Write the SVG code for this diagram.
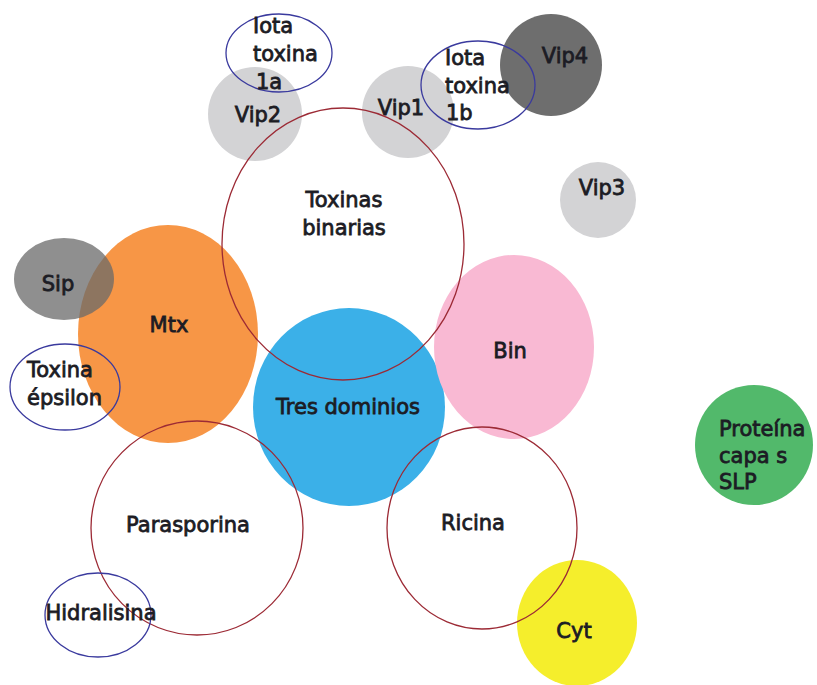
<svg xmlns="http://www.w3.org/2000/svg" width="817" height="685" viewBox="0 0 817 685">
<style>
text{font-family:"DejaVu Sans","Verdana",sans-serif;font-size:21px;fill:#1c1c24;stroke:#1c1c24;stroke-width:0.8}
.c{text-anchor:middle}
.vip{fill:#d3d3d5}
.red{fill:none;stroke:#9c2a35;stroke-width:1.3}
.blue{fill:none;stroke:#3a3a9e;stroke-width:1.3}
</style>
<rect width="817" height="685" fill="#ffffff"/>
<g id="connectors"/>
<g id="vip2"><circle class="vip" cx="255" cy="114" r="47"/><text class="c" x="258" y="122">Vip2</text></g>
<g id="vip1"><circle class="vip" cx="408" cy="112" r="46"/><text class="c" x="401" y="115">Vip1</text></g>
<g id="vip4"><circle cx="551" cy="65" r="51" fill="#6e6e6e"/><text class="c" x="565" y="63">Vip4</text></g>
<g id="vip3"><circle class="vip" cx="598" cy="200" r="38"/><text class="c" x="602" y="195">Vip3</text></g>
<g id="mtx"><ellipse cx="168" cy="334" rx="90" ry="109" fill="#f79646"/><text class="c" x="169" y="332">Mtx</text></g>
<g id="sip"><ellipse cx="64" cy="279" rx="50" ry="41" fill="#6a6a6a" fill-opacity="0.75"/><text class="c" x="58" y="291">Sip</text></g>
<g id="tres-dominios"><ellipse cx="349" cy="407" rx="96" ry="99" fill="#3bb0e8"/><text class="c" x="348" y="414">Tres dominios</text></g>
<g id="bin"><ellipse cx="514" cy="347" rx="80" ry="92" fill="#f9b9d3"/><text class="c" x="510" y="358">Bin</text></g>
<g id="cyt"><ellipse cx="577" cy="623" rx="60" ry="63" fill="#f5ee2c"/><text class="c" x="574" y="638">Cyt</text></g>
<g id="proteina-slp"><ellipse cx="754" cy="445" rx="59" ry="60" fill="#52b96b"/><text x="719" y="436">Proteína</text><text x="719" y="463">capa s</text><text x="719" y="489">SLP</text></g>
<g id="toxinas-binarias"><ellipse class="red" cx="343" cy="244" rx="121" ry="136"/><text class="c" x="344" y="207">Toxinas</text><text class="c" x="344" y="235">binarias</text></g>
<g id="parasporina"><ellipse class="red" cx="197" cy="528" rx="106" ry="107"/><text class="c" x="188" y="532">Parasporina</text></g>
<g id="ricina"><ellipse class="red" cx="482" cy="528" rx="95" ry="101"/><text class="c" x="473" y="530">Ricina</text></g>
<g id="iota-toxina-1a"><ellipse class="blue" cx="279" cy="53" rx="53" ry="39"/><text x="253" y="33">Iota</text><text x="253" y="61">toxina</text><text x="256" y="89">1a</text></g>
<g id="iota-toxina-1b"><ellipse class="blue" cx="478" cy="85" rx="57" ry="44"/><text x="445" y="65">Iota</text><text x="445" y="93">toxina</text><text x="446" y="120">1b</text></g>
<g id="toxina-epsilon"><ellipse class="blue" cx="65" cy="387" rx="55" ry="43"/><text x="27" y="377">Toxina</text><text x="27" y="405">épsilon</text></g>
<g id="hidralisina"><ellipse class="blue" cx="98" cy="615" rx="53" ry="42"/><text class="c" x="101" y="620">Hidralisina</text></g>
</svg>
